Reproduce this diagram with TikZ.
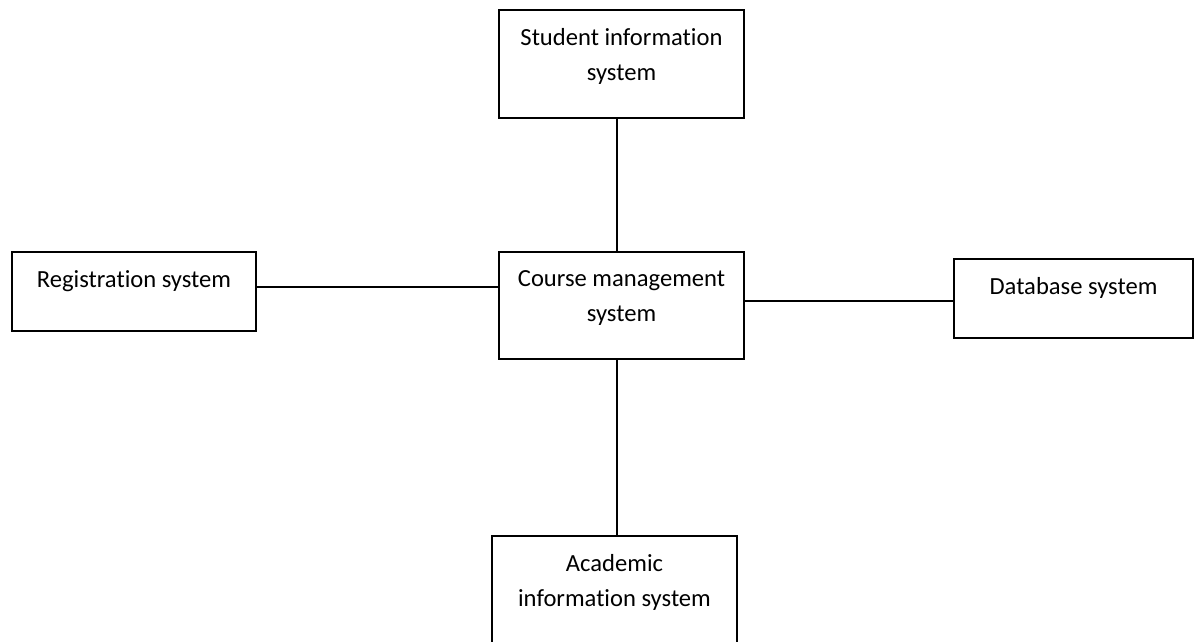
\documentclass[tikz,border=0pt]{standalone}
\usepackage{fontspec}
\setmainfont[Ligatures=NoCommon]{Carlito}
\begin{document}
\begin{tikzpicture}[x=0.5pt,y=-0.5pt]
\tikzstyle{block} = [rectangle, draw, line width=1pt, inner sep=0pt]
\tikzstyle{blocktext} = [anchor=north, align=center, inner sep=0pt, font=\fontsize{12.3}{17.5}\selectfont, yshift=-9.5pt]
\tikzstyle{line} = [line width=1pt]

\useasboundingbox (0,0) rectangle (1195,642);
\clip (0,0) rectangle (1195,642);

\node (student) [block, minimum width=122.5pt, minimum height=54pt] at (621.5,64) {};
\node (studenttext) [blocktext] at (student.north) {Student information\\system};

\node (reg) [block, minimum width=122pt, minimum height=39.5pt] at (134,291.5) {};
\node (regtext) [blocktext] at (reg.north) {Registration system};

\node (course) [block, minimum width=122.5pt, minimum height=53.5pt] at (621.5,305.5) {};
\node (coursetext) [blocktext] at (course.north) {Course management\\system};

\node (db) [block, minimum width=119.5pt, minimum height=39.5pt] at (1073.5,298.5) {};
\node (dbtext) [blocktext] at (db.north) {Database system};

\node (acad) [block, minimum width=122.5pt, minimum height=56pt] at (614.5,592) {};
\node (acadtext) [blocktext] at (acad.north) {Academic\\information system};

\draw [line] ([xshift=-2.25pt]student.south) -- ([xshift=-2.25pt]course.north);
\draw [line] ([xshift=-2.25pt]course.south) -- ([xshift=-2.25pt]course.south |- acad.north);
\draw [line] ([yshift=2.25pt]reg.east) -- ([yshift=2.25pt]reg.east -| course.west);
\draw [line] ([yshift=-1.25pt]db.west) -- ([yshift=-1.25pt]db.west -| course.east);
\end{tikzpicture}
\end{document}
